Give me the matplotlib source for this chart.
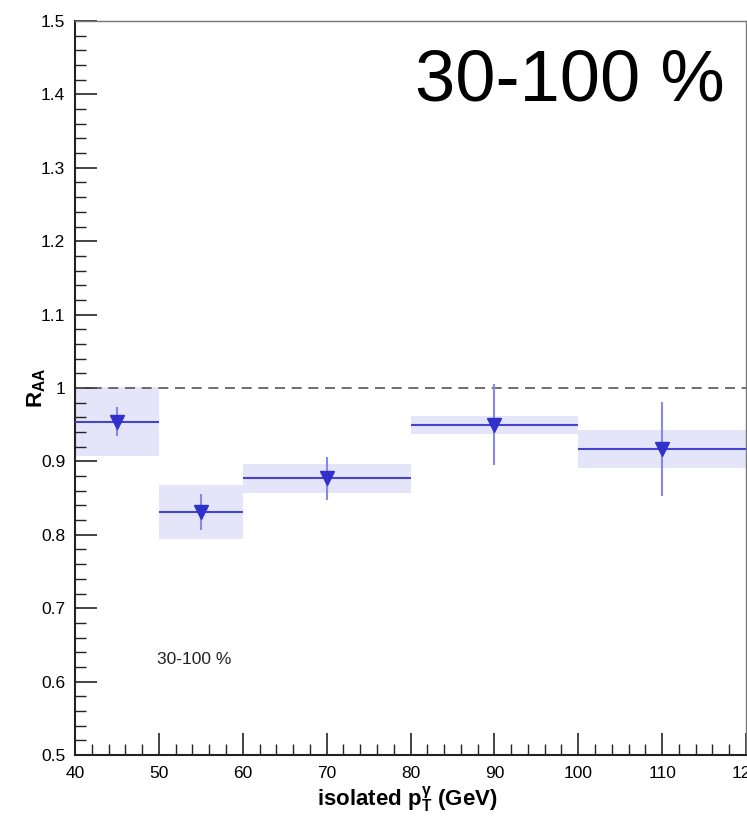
import matplotlib
matplotlib.use("Agg")
import matplotlib.pyplot as plt
from matplotlib.patches import Rectangle
from matplotlib.ticker import MultipleLocator, FuncFormatter
import numpy as np

plt.rcParams['font.family'] = ['Liberation Sans', 'DejaVu Sans']
plt.rcParams['mathtext.fontset'] = 'custom'
plt.rcParams['mathtext.rm'] = 'Liberation Sans'
plt.rcParams['mathtext.bf'] = 'Liberation Sans:bold'
plt.rcParams['mathtext.it'] = 'Liberation Sans:italic'

# bins in isolated photon pT (GeV)
bin_lo = [40, 50, 60, 80, 100]
bin_hi = [50, 60, 80, 100, 120]
raa = [0.954, 0.831, 0.877, 0.950, 0.917]
stat_err = [0.020, 0.025, 0.029, 0.055, 0.064]
sys_err = [0.047, 0.037, 0.020, 0.012, 0.026]
centrality = "30-100 %"

fig = plt.figure(figsize=(7.47, 8.17), dpi=100)
ax = fig.add_axes([75 / 747, 62 / 817, 671 / 747, 734 / 817])

lo = np.array(bin_lo, float)
hi = np.array(bin_hi, float)
y = np.array(raa)
xc = (lo + hi) / 2

for a, b, v, s in zip(lo, hi, y, sys_err):
    ax.add_patch(Rectangle((a, v - s), b - a, 2 * s, facecolor='#e5e5fa',
                           edgecolor='none', zorder=1))

ax.axhline(1.0, color='#555555', lw=1.2, ls=(0, (6, 4)), zorder=2)
ax.hlines(y, lo, hi, color='#4444cc', lw=1.5, zorder=3)
ax.vlines(xc, y - np.array(stat_err), y + np.array(stat_err),
          color='#8888e8', lw=1.5, zorder=3)
ax.plot(xc, y, 'v', color='#3030cc', ms=9.5, zorder=4)

ax.set_xlim(40, 120)
ax.set_ylim(0.5, 1.5)
ax.xaxis.set_major_locator(MultipleLocator(10))
ax.xaxis.set_minor_locator(MultipleLocator(2))
ax.yaxis.set_major_locator(MultipleLocator(0.1))
ax.yaxis.set_minor_locator(MultipleLocator(0.02))
ax.yaxis.set_major_formatter(FuncFormatter(lambda v, p: '%g' % round(v, 2)))
ax.tick_params(which='both', direction='in', top=False, right=False,
               labelsize=12.5, color='#222222')
ax.tick_params(which='major', length=15.5, width=1.2)
ax.tick_params(which='minor', length=8, width=1.0)
ax.tick_params(axis='x', pad=8)
ax.tick_params(axis='y', pad=7)

for sp in ['left', 'bottom']:
    ax.spines[sp].set_linewidth(1.5)
    ax.spines[sp].set_color('#222222')
for sp in ['top', 'right']:
    ax.spines[sp].set_linewidth(1.0)
    ax.spines[sp].set_color('#777777')

ax.text(0.630, -0.0695,
        r'isolated $\mathbf{p}_{\mathbf{T}}^{\mathbf{\gamma}}$ (GeV)',
        transform=ax.transAxes, fontsize=16, fontweight='bold',
        ha='right', va='baseline')
ax.text(-0.057, 0.5, r'$\mathbf{R}_{\mathbf{AA}}$', transform=ax.transAxes,
        fontsize=16, rotation=90, ha='center', va='center')

ax.text(0.969, 0.892, centrality, transform=ax.transAxes, fontsize=52,
        ha='right', va='baseline')
ax.text(0.122, 0.13, centrality, transform=ax.transAxes, fontsize=12.5,
        ha='left', va='center', color='#222222')

fig.savefig('out.png', dpi=100)
